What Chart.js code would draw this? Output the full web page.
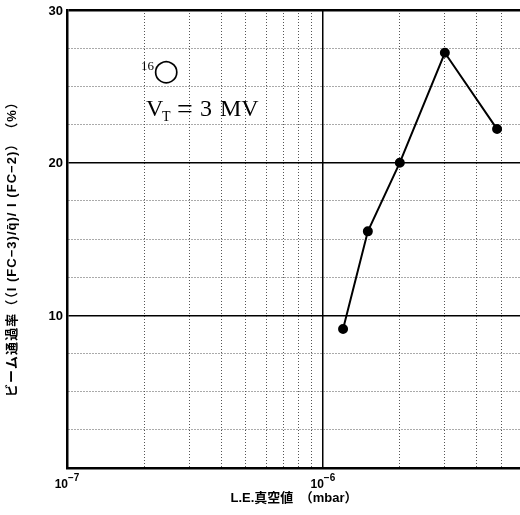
<!DOCTYPE html>
<html><head><meta charset="utf-8">
<script src="https://cdn.jsdelivr.net/npm/chart.js@4/dist/chart.umd.min.js"></script>
<style>html,body{margin:0;padding:0;background:#fff}canvas{display:block}</style>
</head><body>
<canvas id="c" width="520" height="515"></canvas>
<script>
// ---- data ----
const pressure = [1.2e-6, 1.5e-6, 2.0e-6, 3.0e-6, 4.8e-6];       // L.E. vacuum (mbar)
const transmission = [9.1, 15.5, 20.0, 27.2, 22.2];             // beam transmission (%)
const xGridValues = [1e-7, 2e-7, 3e-7, 4e-7, 5e-7, 6e-7, 7e-7, 8e-7, 9e-7, 1e-6, 2e-6, 3e-6, 4e-6, 5e-6];
const xMajorValues = [1e-7, 1e-6];
const xLabelExponents = ['−7', '−6'];
const yLabelValues = [10, 20, 30];
const xTitle = 'L.E.真空値　（mbar）';
const yTitle = 'ビーム通過率（（I (FC−3)/q̄)/ I (FC−2)）　（%）';
const isotopeMass = '16';
const isotopeSymbol = '○';
const voltageLabel = ['V', 'T', '=', '3', 'MV'];

const XMIN = 1e-7, XMAX = 5.9e-6, YMIN = 0, YMAX = 30;

function near(a, b) { return Math.abs(a - b) <= Math.abs(b) * 1e-6 + 1e-12; }
function zeroPad(s) { s.paddingLeft = 0; s.paddingRight = 0; s.paddingTop = 0; s.paddingBottom = 0; }

const annot = {
  id: 'annot',
  afterDraw(chart) {
    const ctx = chart.ctx;
    const xs = chart.scales.x, ys = chart.scales.y;
    ctx.save();
    ctx.fillStyle = '#000';
    // y tick labels
    ctx.font = 'bold 13px "Liberation Sans", Arial, sans-serif';
    ctx.textAlign = 'right'; ctx.textBaseline = 'middle';
    yLabelValues.forEach(v => ctx.fillText(String(v), 63, ys.getPixelForValue(v) + 1));
    // x tick labels 10^n
    xMajorValues.forEach((v, i) => {
      const px = xs.getPixelForValue(v);
      ctx.font = 'bold 12px "Liberation Sans", Arial, sans-serif';
      ctx.textAlign = 'right'; ctx.textBaseline = 'alphabetic';
      ctx.fillText('10', px + 1, 488);
      ctx.font = 'bold 10px "Liberation Sans", Arial, sans-serif';
      ctx.textAlign = 'left';
      ctx.fillText(xLabelExponents[i], px + 1, 481);
    });
    // x title
    ctx.font = 'bold 13px "Liberation Sans", "Noto Sans CJK JP", sans-serif';
    ctx.textAlign = 'center'; ctx.textBaseline = 'middle';
    ctx.fillText(xTitle, 294, 498);
    // y title
    ctx.save();
    ctx.translate(12, 246);
    ctx.rotate(-Math.PI / 2);
    ctx.font = 'bold 13px "Liberation Sans", "Noto Sans CJK JP", sans-serif';
    ctx.textAlign = 'center'; ctx.textBaseline = 'middle';
    const w = ctx.measureText(yTitle).width;
    if ('letterSpacing' in ctx && w < 303) {
      const n = [...yTitle].length;
      ctx.letterSpacing = ((303 - w) / n).toFixed(2) + 'px';
    }
    ctx.fillText(yTitle, 0, 0);
    ctx.restore();
    // isotope label
    ctx.font = '13px "Liberation Serif", "Times New Roman", serif';
    ctx.textAlign = 'right'; ctx.textBaseline = 'alphabetic';
    ctx.fillText(isotopeMass, 154, 70);
    ctx.font = '30px "DejaVu Sans", sans-serif';
    ctx.textAlign = 'center'; ctx.textBaseline = 'middle';
    ctx.fillText(isotopeSymbol, 166, 72);
    // V_T = 3 MV
    ctx.textAlign = 'left'; ctx.textBaseline = 'alphabetic';
    ctx.font = '24px "Liberation Serif", "Times New Roman", serif';
    ctx.fillText(voltageLabel[0], 146, 116);
    ctx.font = '14px "Liberation Serif", "Times New Roman", serif';
    ctx.fillText(voltageLabel[1], 162, 121);
    ctx.font = '28px "Liberation Serif", "Times New Roman", serif';
    ctx.fillText(voltageLabel[2], 177, 118);
    ctx.font = '24px "Liberation Serif", "Times New Roman", serif';
    ctx.fillText(voltageLabel[3], 200, 116);
    ctx.fillText(voltageLabel[4], 220, 116);
    ctx.restore();
  }
};

new Chart(document.getElementById('c'), {
  type: 'line',
  data: {
    datasets: [{
      data: pressure.map((p, i) => ({ x: p, y: transmission[i] })),
      borderColor: '#000', backgroundColor: '#000',
      borderWidth: 2, pointRadius: 4, pointHoverRadius: 4,
      pointBackgroundColor: '#000', pointBorderColor: '#000',
      tension: 0, fill: false
    }]
  },
  options: {
    responsive: false, animation: false, events: [],
    devicePixelRatio: 1,
    layout: { autoPadding: false, padding: { top: 10, right: 0, left: 0, bottom: 0 } },
    plugins: { legend: { display: false }, tooltip: { enabled: false } },
    scales: {
      x: {
        type: 'logarithmic', min: XMIN, max: XMAX,
        afterBuildTicks: s => { s.ticks = xGridValues.map(v => ({ value: v })); },
        afterFit: s => { s.height = 47; zeroPad(s); },
        ticks: { display: false },
        grid: {
          drawTicks: false,
          color: c => {
            const v = c.tick ? c.tick.value : null;
            if (v === null) return '#000';
            if (near(v, XMIN)) return 'rgba(0,0,0,0)';
            return xMajorValues.some(m => near(v, m)) ? '#000' : '#555';
          },
          lineWidth: c => {
            const v = c.tick ? c.tick.value : null;
            if (v !== null && xMajorValues.some(m => near(v, m))) return 1.5;
            return 1;
          }
        },
        border: {
          display: true, color: '#000', width: 2.5,
          dash: c => {
            const v = c.tick ? c.tick.value : null;
            if (v === null) return [];
            return xMajorValues.some(m => near(v, m)) ? [] : [1, 2];
          }
        }
      },
      y: {
        type: 'linear', min: YMIN, max: YMAX,
        afterFit: s => { s.width = 67; zeroPad(s); },
        ticks: { stepSize: 2.5, autoSkip: false, display: false },
        grid: {
          drawTicks: false,
          color: c => {
            const v = c.tick ? c.tick.value : null;
            if (v === null) return '#000';
            if (v === YMIN) return 'rgba(0,0,0,0)';
            return yLabelValues.includes(v) ? '#000' : '#555';
          },
          lineWidth: c => {
            const v = c.tick ? c.tick.value : null;
            if (v === YMAX) return 2.5;
            if (v !== null && yLabelValues.includes(v)) return 1.5;
            return 1;
          }
        },
        border: {
          display: true, color: '#000', width: 2.5,
          dash: c => {
            const v = c.tick ? c.tick.value : null;
            if (v === null) return [];
            return yLabelValues.includes(v) ? [] : [1, 2];
          }
        }
      }
    }
  },
  plugins: [annot]
});
</script>
</body></html>
